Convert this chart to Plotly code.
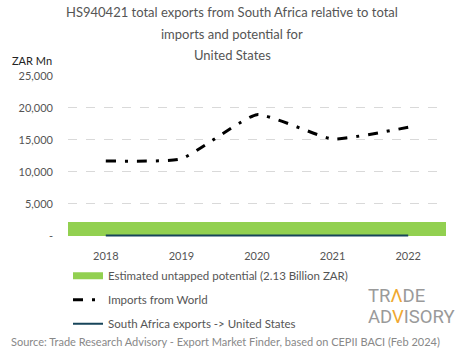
import plotly.graph_objects as go

years = ["2018", "2019", "2020", "2021", "2022"]
imports_world = [11700, 12050, 18950, 15150, 16980]
sa_exports = [25, 35, 40, 20, 30]
potential = [2130, 2130, 2130, 2130, 2130]

ytick_vals = [0, 5000, 10000, 15000, 20000, 25000]
ytick_text = ["-", "5,000", "10,000", "15,000", "20,000", "25,000"]

title_lines = [
    "HS940421 total exports from South Africa relative to total",
    "imports and potential for",
    "United States",
]

FONT = "Lato"
GREEN = "#92d050"
GREY = "#555555"
LOGO_FONT = "Roboto, sans-serif"

# plot-area geometry helpers (pixels -> paper coordinates)
L, T, W, H = 68, 76, 378, 161.28
def px(x):
    return (x - L) / W
def py(y):
    return (T + H - y) / H

fig = go.Figure()

fig.add_trace(go.Bar(
    x=years, y=potential, marker=dict(color=GREEN, line=dict(width=0)),
    width=1, showlegend=False, hoverinfo="skip"))

# legend swatch for the potential bar
fig.add_trace(go.Scatter(
    x=[None], y=[None], mode="lines", line=dict(color=GREEN, width=7),
    name="Estimated untapped potential (2.13 Billion ZAR)", legendgroup="a"))

fig.add_trace(go.Scatter(
    x=years, y=imports_world, mode="lines",
    line=dict(color="black", width=3, dash="10px,9px,3px,9px",
              shape="spline", smoothing=0.45),
    name="Imports from World", legendgroup="b"))

fig.add_trace(go.Scatter(
    x=years, y=sa_exports, mode="lines",
    line=dict(color="#17455a", width=2, shape="spline"),
    name="South Africa exports -> United States", legendgroup="c"))

annotations = []
for i, (line, yc) in enumerate(zip(title_lines, [12, 34, 55])):
    annotations.append(dict(
        text=line, xref="paper", yref="paper", x=px(232), y=py(yc),
        xanchor="center", yanchor="middle", showarrow=False,
        font=dict(family=FONT, size=13, color=GREY)))

annotations += [
    dict(text="ZAR Mn", xref="paper", yref="paper", x=px(10), y=py(60),
         xanchor="left", yanchor="middle", showarrow=False,
         font=dict(family=FONT, size=11, color="#222")),
    dict(text="Source: Trade Research Advisory - Export Market Finder, based on CEPII BACI (Feb 2024)",
         xref="paper", yref="paper", x=px(9), y=py(342), xanchor="left",
         yanchor="middle", showarrow=False,
         font=dict(family=FONT, size=11, color="#888")),
    dict(text="TR<span style='color:#f0a830'>Λ</span>DE",
         xref="paper", yref="paper", x=px(366), y=py(296), xanchor="left",
         yanchor="middle", showarrow=False,
         font=dict(family=LOGO_FONT, size=18.5, color="#9a9a9a")),
    dict(text="AD<span style='color:#f0a830'>V</span>ISORY",
         xref="paper", yref="paper", x=px(366), y=py(317), xanchor="left",
         yanchor="middle", showarrow=False,
         font=dict(family=LOGO_FONT, size=18.5, color="#9a9a9a")),
]

fig.update_layout(
    width=465, height=359,
    margin=dict(l=L, r=465 - L - W, t=T, b=359 - T - H),
    paper_bgcolor="white", plot_bgcolor="white",
    font=dict(family=FONT, size=11, color=GREY),
    bargap=0,
    xaxis=dict(
        type="category", range=[-0.5, 4.5], showgrid=False, zeroline=False,
        showline=False, ticks="", tickfont=dict(size=11, color=GREY),
        ticklabelstandoff=11, fixedrange=True),
    yaxis=dict(
        range=[-200, 25000], tickvals=ytick_vals, ticktext=ytick_text,
        showgrid=True, gridcolor="#d9d9d9", griddash="dash", gridwidth=1,
        zeroline=False, showline=False, ticks="",
        tickfont=dict(size=11, color=GREY), ticklabelstandoff=14,
        fixedrange=True),
    legend=dict(
        x=0.0, xanchor="left", y=-0.15, yanchor="top",
        font=dict(family=FONT, size=11.5, color=GREY),
        tracegroupgap=5, itemwidth=30, bgcolor="rgba(0,0,0,0)"),
    annotations=annotations,
)

fig.write_html("out.html", config={"displayModeBar": False},
               post_script="document.body.style.margin='0';")
